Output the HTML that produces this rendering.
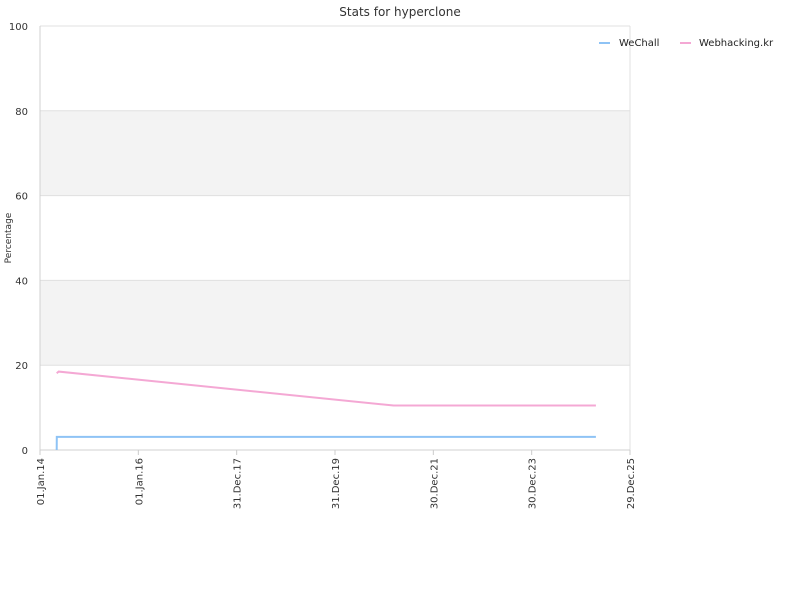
<!DOCTYPE html>
<html><head><meta charset="utf-8"><style>
body{margin:0;background:#fff;font-family:"DejaVu Sans","Liberation Sans",sans-serif}
svg text{font-family:"DejaVu Sans","Liberation Sans",sans-serif}
</style></head><body>
<svg id="chart" width="800" height="600" xmlns="http://www.w3.org/2000/svg"></svg>
<script>
const tickDates=["2014-01-01","2016-01-01","2017-12-31","2019-12-31","2021-12-30","2023-12-30","2025-12-29"];
const tickLabels=["01.Jan.14","01.Jan.16","31.Dec.17","31.Dec.19","30.Dec.21","30.Dec.23","29.Dec.25"];
const yTicks=[0,20,40,60,80,100];
const wechallDates=["2014-05-05","2014-05-06","2025-04-20"];
const wechallValues=[0,3.1,3.1];
const webDates=["2014-05-05","2014-05-20","2021-03-10","2025-04-20"];
const webValues=[18.1,18.5,10.5,10.5];

const svg=document.getElementById('chart');
const NS='http://www.w3.org/2000/svg';
const X0=40,X1=630,Y0=450,Y1=26;
const t0=Date.parse(tickDates[0]),t1=Date.parse(tickDates[tickDates.length-1]);
const xs=d=>X0+(Date.parse(d)-t0)/(t1-t0)*(X1-X0);
const ys=v=>Y0-v/100*(Y0-Y1);
function mk(tag,attrs,name,text){const e=document.createElementNS(NS,tag);for(const k in attrs)e.setAttribute(k,attrs[k]);


if(text!==undefined)e.textContent=text;svg.appendChild(e);return e;}
for(let i=0;i<yTicks.length-1;i++){if(i%2===1){mk('rect',{x:X0,y:ys(yTicks[i+1]),width:X1-X0,height:ys(yTicks[i])-ys(yTicks[i+1]),fill:'#f3f3f3'},'grid-band');}}
yTicks.forEach(v=>{mk('line',{x1:X0,x2:X1,y1:ys(v),y2:ys(v),stroke:'#e0e0e0'},'grid-line');
mk('text',{x:X0-12,y:ys(v)+4,'text-anchor':'end','font-size':10,fill:'#333'},'y-tick-label',String(v));});
mk('line',{x1:X1,x2:X1,y1:Y1,y2:Y0,stroke:'#e0e0e0'},'plot-border-right');
mk('line',{x1:X0,x2:X0,y1:Y1,y2:Y0,stroke:'#d0d0d0'},'y-axis');
mk('line',{x1:X0,x2:X1,y1:Y0,y2:Y0,stroke:'#d0d0d0'},'x-axis');
tickDates.forEach((d,i)=>{const x=xs(d);mk('line',{x1:x,x2:x,y1:Y0,y2:Y0+5,stroke:'#ccc'},'x-tick');
mk('text',{x:x+4,y:Y0+8,'text-anchor':'end','font-size':10,fill:'#333',transform:`rotate(-90 ${x+4} ${Y0+8})`},'x-tick-label',tickLabels[i]);});
mk('text',{x:400,y:16,'text-anchor':'middle','font-size':12,fill:'#333'},'chart-title','Stats for hyperclone');
mk('text',{x:11,y:238,'text-anchor':'middle','font-size':9,fill:'#333',transform:'rotate(-90 11 238)'},'y-axis-title','Percentage');
function step(dates,vals){let p='';dates.forEach((d,i)=>{const x=xs(d),y=ys(vals[i]);p+=(i?'L':'M')+x.toFixed(1)+' '+y.toFixed(1);});return p;}
mk('path',{d:step(wechallDates,wechallValues),fill:'none',stroke:'#8ec3f5','stroke-width':2},'wechall-line');
mk('path',{d:step(webDates,webValues),fill:'none',stroke:'#f4a8d4','stroke-width':2},'webhacking-line');
mk('line',{x1:599,x2:610,y1:43,y2:43,stroke:'#8ec3f5','stroke-width':2},'legend-wechall-swatch');
mk('text',{x:619,y:46,'font-size':10,fill:'#222'},'legend-wechall-label','WeChall');
mk('line',{x1:680,x2:691,y1:43,y2:43,stroke:'#f4a8d4','stroke-width':2},'legend-webhacking-swatch');
mk('text',{x:699,y:46,'font-size':10,fill:'#222'},'legend-webhacking-label','Webhacking.kr');
</script>
</body></html>
